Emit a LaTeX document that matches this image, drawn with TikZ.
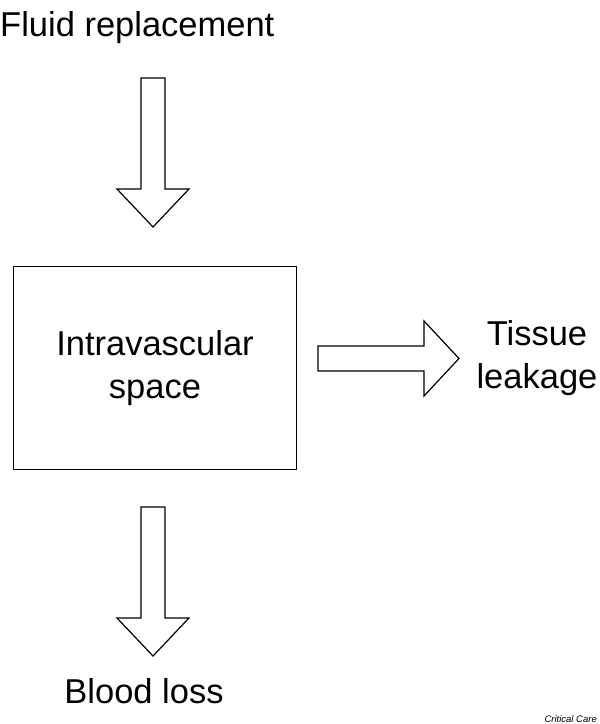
\documentclass[tikz,border=0pt]{standalone}
\usepackage{fontspec}
\setmainfont{Liberation Sans}
\begin{document}
\begin{tikzpicture}[x=1pt,y=-1pt,
  outline/.style={draw=black,line width=1.2pt,fill=white,line join=miter},
  lbl/.style={inner sep=0pt,font=\fontsize{34.5}{43}\selectfont,align=center}]
\useasboundingbox (0,0) rectangle (600,724);
% box
\node[draw=black,line width=1.2pt,minimum width=283pt,minimum height=203pt,inner sep=0pt,anchor=north west] (box) at (13,266) {};
\node[lbl] (ivs) at (155,368) {Intravascular\\space};
% top arrow
\draw[outline] (141,78) -- (165,78) -- (165,189) -- (189,189) -- (153,227) -- (117,189) -- (141,189) -- cycle;
% bottom arrow
\draw[outline] (141,507) -- (165,507) -- (165,618) -- (189,618) -- (153,656) -- (117,618) -- (141,618) -- cycle;
% right arrow
\draw[outline] (318,346) -- (424,346) -- (424,321) -- (459,358.5) -- (424,396) -- (424,371) -- (318,371) -- cycle;
\node[lbl,anchor=base west] (fr) at (0,36) {Fluid replacement};
\node[lbl] (tl) at (537,358) {Tissue\\leakage};
\node[lbl,anchor=base] (bl) at (144,703) {Blood loss};
\node[inner sep=0pt,anchor=base east,font=\fontsize{9.5}{11}\selectfont\itshape] (cc) at (597,722) {Critical Care};
\end{tikzpicture}
\end{document}
